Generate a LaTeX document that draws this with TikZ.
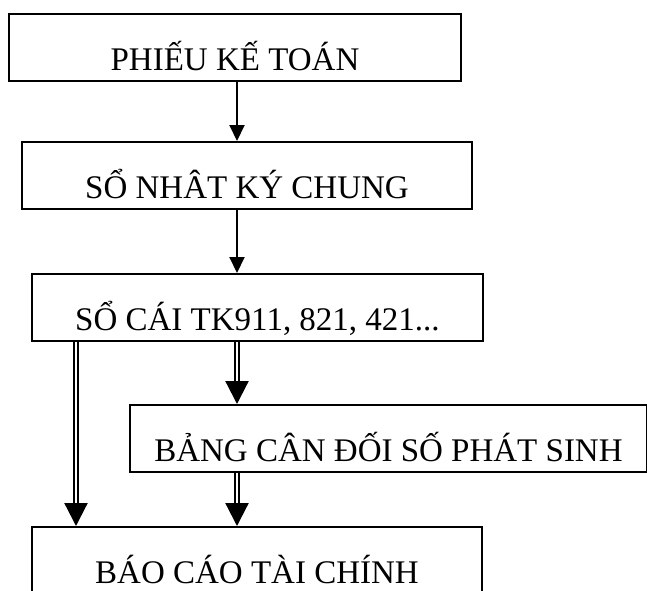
\documentclass[tikz,border=0pt]{standalone}
\usepackage{fontspec}
\setmainfont{Liberation Serif}
\usetikzlibrary{arrows.meta, positioning}

\tikzset{
  box/.style={draw, line width=2pt, anchor=north west, inner sep=0pt,
    text height=56pt, text depth=11pt, font=\fontsize{33}{40}\selectfont},
  link/.style={line width=2pt, -{Triangle[length=16pt, width=15pt]}},
  dlink/.style={line width=2.2pt, double, double distance=2.2pt,
    -{Triangle[length=23pt, width=23pt]}}
}

\begin{document}
\begin{tikzpicture}[x=1pt, y=-1pt]
      \useasboundingbox (0,0) rectangle (647,590);

      \node[box, minimum width=452pt] (phieu) at (8, 13) {PHIẾU KẾ TOÁN};
      \node[box, minimum width=450pt] (nkc) at (21, 141) {SỔ NHÂT KÝ CHUNG};
      \node[box, minimum width=451pt] (socai) at (31, 273) {SỔ CÁI TK911, 821, 421...};
      \node[box, minimum width=517pt] (bcd) at (129, 404) {BẢNG CÂN ĐỐI SỐ PHÁT SINH};
      \node[box, minimum width=450pt] (bctc) at (31, 526) {BÁO CÁO TÀI CHÍNH};

      \draw[link] (237,0 |- phieu.south) -- (237,0 |- nkc.north);
      \draw[link] (237,0 |- nkc.south) -- (237,0 |- socai.north);
      \draw[dlink] (76,0 |- socai.south) -- (76,0 |- bctc.north);
      \draw[dlink] (237,0 |- socai.south) -- (237,0 |- bcd.north);
      \draw[dlink] (237,0 |- bcd.south) -- (237,0 |- bctc.north);
    \end{tikzpicture}
\end{document}
